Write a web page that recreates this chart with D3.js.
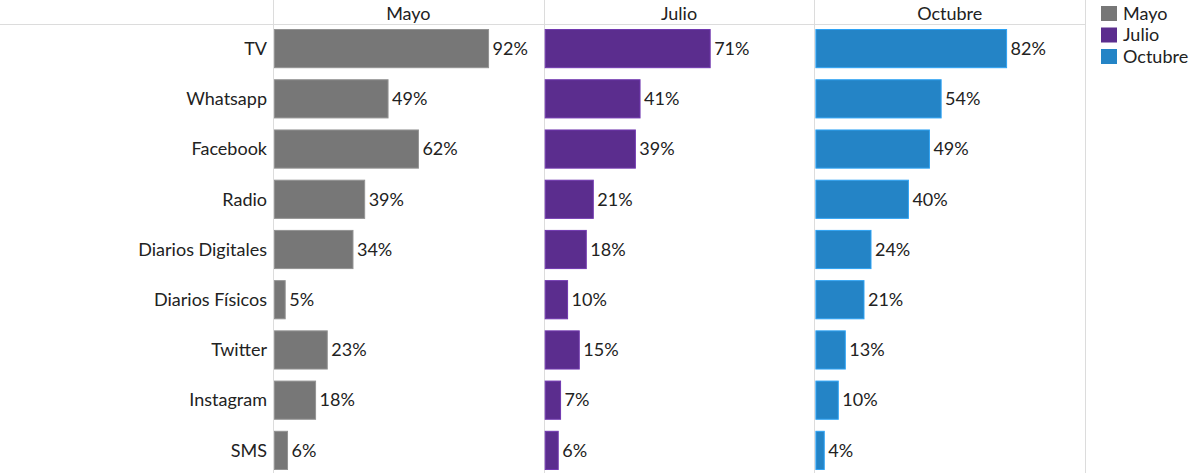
<!DOCTYPE html>
<html><head><meta charset="utf-8">
<script src="https://cdn.jsdelivr.net/npm/d3@7"></script>
<style>body{margin:0;background:#fff;}svg{display:block;font-family:Lato,"Open Sans",sans-serif;}</style>
</head><body>
<svg id="c" width="1194" height="473"></svg>
<script>
const categories = ["TV","Whatsapp","Facebook","Radio","Diarios Digitales","Diarios Físicos","Twitter","Instagram","SMS"];
const periods = ["Mayo","Julio","Octubre"];
const mayo = [92,49,62,39,34,5,23,18,6];
const julio = [71,41,39,21,18,10,15,7,6];
const octubre = [82,54,49,40,24,21,13,10,4];
const colors = ["#777777","#5b2d8e","#2484c6"];
const series = [mayo, julio, octubre];

(function(){
const svg = d3.select("#c");
const left = 273, panelW = 270.7, topY = 24.5, rowH = 50, headerY = 14, fs = 18, tc = "#222";
const y = d3.scaleBand().domain(categories).range([topY, topY + rowH*categories.length]).paddingInner(0.24).paddingOuter(0.1);
const x = d3.scaleLinear().domain([0, 115.8]).range([0, panelW]);
const panelX = d3.scaleBand().domain(periods).range([left, left + panelW*3]);

svg.append("line").attr("x1",0).attr("x2",left+panelW*3).attr("y1",24.5).attr("y2",24.5).attr("stroke","#dcdcdc");
for (let i=0;i<=3;i++){
  const xx = Math.round(left + panelW*i)+0.5;
  svg.append("line").attr("x1",xx).attr("x2",xx).attr("y1",0).attr("y2",473).attr("stroke","#dcdcdc");
}
svg.append("g").selectAll("text").data(categories).join("text")
  .attr("x", left-6).attr("y", d=>y(d)+y.bandwidth()/2).attr("dy","0.35em")
  .attr("text-anchor","end").attr("font-size",fs).attr("fill",tc).text(d=>d);

periods.forEach((p,i)=>{
  const g = svg.append("g").attr("transform",`translate(${panelX(p)},0)`);
  g.append("text").attr("x", panelW/2).attr("y", headerY).attr("dy","0.35em").attr("text-anchor","middle")
    .attr("font-size",fs).attr("fill",tc).text(p);
  const data = categories.map((c,j)=>({c, v: series[i][j]}));
  g.selectAll("rect").data(data).join("rect")
    .attr("x", 1.5).attr("y", d=>y(d.c)).attr("width", d=>x(d.v)-1).attr("height", y.bandwidth())
    .attr("fill", colors[i]).attr("stroke", d3.color(colors[i]).brighter(0.6)).attr("stroke-width",1);
  g.selectAll("text.v").data(data).join("text").attr("class","v")
    .attr("x", d=>x(d.v)+4.5).attr("y", d=>y(d.c)+y.bandwidth()/2).attr("dy","0.35em")
    .attr("font-size",fs).attr("fill",tc).text(d=>d.v+"%");
});

const lg = svg.append("g").attr("transform","translate(1101,6)");
periods.forEach((p,i)=>{
  lg.append("rect").attr("x",0).attr("y",i*21.5).attr("width",16).attr("height",15).attr("fill",colors[i]);
  lg.append("text").attr("x",22).attr("y",i*21.5+7.5).attr("dy","0.35em").attr("font-size",fs).attr("fill",tc).text(p);
});
})();
</script>
</body></html>
